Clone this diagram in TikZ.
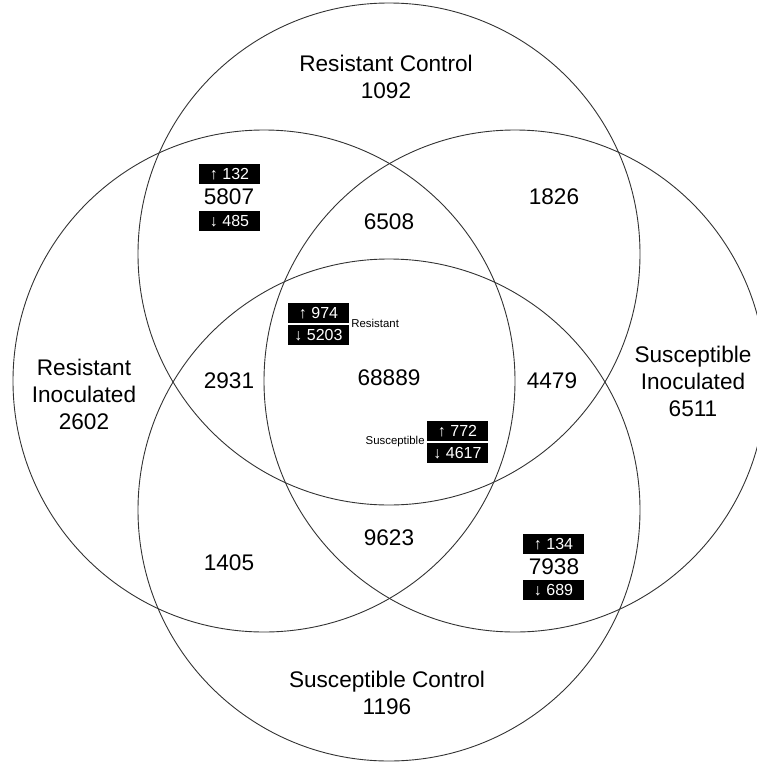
\documentclass[tikz,border=0pt]{standalone}
\usepackage{fontspec}
\setmainfont{Liberation Sans}
\usetikzlibrary{positioning}

\begin{document}
\begin{tikzpicture}[line cap=round,line join=round,x=1pt,y=-1pt,
    setlbl/.style={align=center,font=\fontsize{22.6}{27}\selectfont,inner sep=0pt},
    cnt/.style={font=\fontsize{22.6}{27}\selectfont,inner sep=0pt},
    tag/.style={fill=black,text=white,minimum width=61pt,minimum height=20pt,inner sep=0pt,font=\fontsize{16}{18}\selectfont},
    side/.style={font=\fontsize{11.4}{13}\selectfont,inner sep=1pt}]
    \useasboundingbox (0,0) rectangle (757,763);
    \clip (0,0) rectangle (757,763);
    % the four sets: top, bottom, left, right
    \foreach \cx/\cy in {389/254,389/510,264/381,515/381}
    \draw[line width=0.9pt,black!80] (\cx,\cy) circle[radius=251pt];

    \node[setlbl] (rc) at (386,77) {Resistant Control\\1092};
    \node[setlbl] (ri) at (84,394) {Resistant\\Inoculated\\2602};
    \node[setlbl] (si) at (693,381) {Susceptible\\Inoculated\\6511};
    \node[setlbl] (sc) at (387,693) {Susceptible Control\\1196};

    \node[cnt] (rcri) at (229,197) {5807};
    \node[cnt] (rcrisi) at (389,222) {6508};
    \node[cnt] (rcsi) at (554,197) {1826};
    \node[cnt] (rcrisc) at (229,381) {2931};
    \node[cnt] (all) at (389,378) {68889};
    \node[cnt] (rcsisc) at (552,381) {4479};
    \node[cnt] (risc) at (229,563) {1405};
    \node[cnt] (risisc) at (389,538) {9623};
    \node[cnt] (sisc) at (554,567) {7938};

    % up / down tags
    \node[tag] (rcriup) at (229.5,174) {↑ 132};
    \node[tag] (rcridn) at (229.5,221) {↓ 485};
    \node[tag] (siscup) at (553.5,544) {↑ 134};
    \node[tag] (siscdn) at (553.5,590) {↓ 689};

    \node[tag] (resup) at (318.5,313) {↑ 974};
    \node[tag,below=1.5pt of resup] (resdn) {↓ 5203};
    \node[side,right=1pt of resup.south east] (reslbl) {Resistant};

    \node[tag] (susup) at (457.5,431) {↑ 772};
    \node[tag,below=1.5pt of susup] (susdn) {↓ 4617};
    \node[side,left=1pt of susup.south west] (suslbl) {Susceptible};
\end{tikzpicture}
\end{document}
